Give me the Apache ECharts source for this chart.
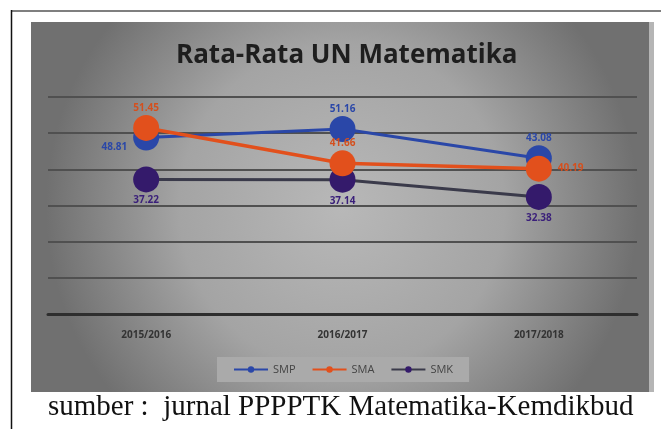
<!DOCTYPE html>
<html><head><meta charset="utf-8">
<script src="https://cdn.jsdelivr.net/npm/echarts@6/dist/echarts.min.js"></script>
<style>html,body{margin:0;padding:0;background:#fff}#c{width:661px;height:429px}</style>
</head><body><div id="c"></div>
<script>
const categories = ['2015/2016', '2016/2017', '2017/2018'];
const smp = [48.81, 51.16, 43.08];
const sma = [51.45, 41.66, 40.19];
const smk = [37.22, 37.14, 32.38];
const titleText = 'Rata-Rata UN Matematika';
const captionText = 'sumber :  jurnal PPPPTK Matematika-Kemdikbud';

const chart = echarts.init(document.getElementById('c'));
const lbl = (color, pos, extra) => Object.assign({show: true, position: pos, color: color, fontSize: 10, fontWeight: 'bold', fontFamily: 'Open Sans', formatter: p => p.value.toFixed(2)}, extra || {});
chart.setOption({
  animation: false,
  graphic: [
    {type: 'rect', z: -10, shape: {x: 31, y: 22, width: 622, height: 370},
     style: {fill: {type: 'radial', x: 0.5, y: 0.5, r: 0.8, colorStops: [
       {offset: 0, color: '#b8b8b8'}, {offset: 0.55, color: '#a4a4a4'}, {offset: 1, color: '#707070'}]}}},
    {type: 'rect', z: -9, shape: {x: 649, y: 22, width: 5, height: 370}, style: {fill: '#b5b5b5'}},
    {type: 'line', shape: {x1: 11, y1: 11, x2: 661, y2: 11}, style: {stroke: '#7f7f7f', lineWidth: 2}},
    {type: 'line', shape: {x1: 11.5, y1: 10, x2: 11.5, y2: 429}, style: {stroke: '#111', lineWidth: 1.5}},
    {type: 'text', left: 48, top: 393, style: {text: captionText, font: '29px "Liberation Serif"', fill: '#111'}}
  ],
  title: {text: titleText, left: 171, top: 38,
    textStyle: {fontFamily: 'Open Sans', fontSize: 26, fontWeight: 'bold', color: '#1e1e1e'}},
  legend: {bottom: 47, left: 217, backgroundColor: '#aaaaaa', padding: [7, 16, 7, 16], itemGap: 16,
    itemWidth: 34, itemHeight: 8,
    textStyle: {color: '#444', fontSize: 11, fontFamily: 'Open Sans'},
    data: [{name: 'SMP'}, {name: 'SMA'}, {name: 'SMK'}]},
  grid: {left: 48, right: 24, top: 97, bottom: 115},
  xAxis: {type: 'category', data: categories,
    axisLine: {lineStyle: {color: '#2e2e2e', width: 3}}, axisTick: {show: false},
    axisLabel: {color: '#333', fontSize: 10, fontWeight: 'bold', fontFamily: 'Open Sans', margin: 16}},
  yAxis: {type: 'value', min: 0, max: 60, interval: 10,
    axisLabel: {show: false}, axisLine: {show: false}, axisTick: {show: false},
    splitLine: {lineStyle: {color: '#505050', width: 2}}},
  series: [
    {name: 'SMP', type: 'line', data: smp, symbol: 'circle', symbolSize: 26, z: 3,
     lineStyle: {color: '#2a47a8', width: 3}, itemStyle: {color: '#2a47a8'},
     label: lbl('#2a47a8', 'top', {distance: 2})},
    {name: 'SMA', type: 'line', data: sma, symbol: 'circle', symbolSize: 26, z: 4,
     lineStyle: {color: '#e2501c', width: 3.5}, itemStyle: {color: '#e2501c'},
     label: lbl('#d4501e', 'top', {distance: 2})},
    {name: 'SMK', type: 'line', data: smk, symbol: 'circle', symbolSize: 26, z: 2,
     lineStyle: {color: '#3a3a4a', width: 3}, itemStyle: {color: '#341a6b'},
     label: lbl('#3a1f7a', 'bottom', {distance: 3})}
  ]
});
// per-point label positions matching the reference
chart.setOption({series: [
  {name: 'SMP', data: [
    {value: smp[0], label: {position: 'left', offset: [-4, 10]}}, smp[1], smp[2]]},
  {name: 'SMA', data: [sma[0], sma[1], {value: sma[2], label: {position: 'right', distance: 6}}]},
  {name: 'SMK'}
]});
</script></body></html>
